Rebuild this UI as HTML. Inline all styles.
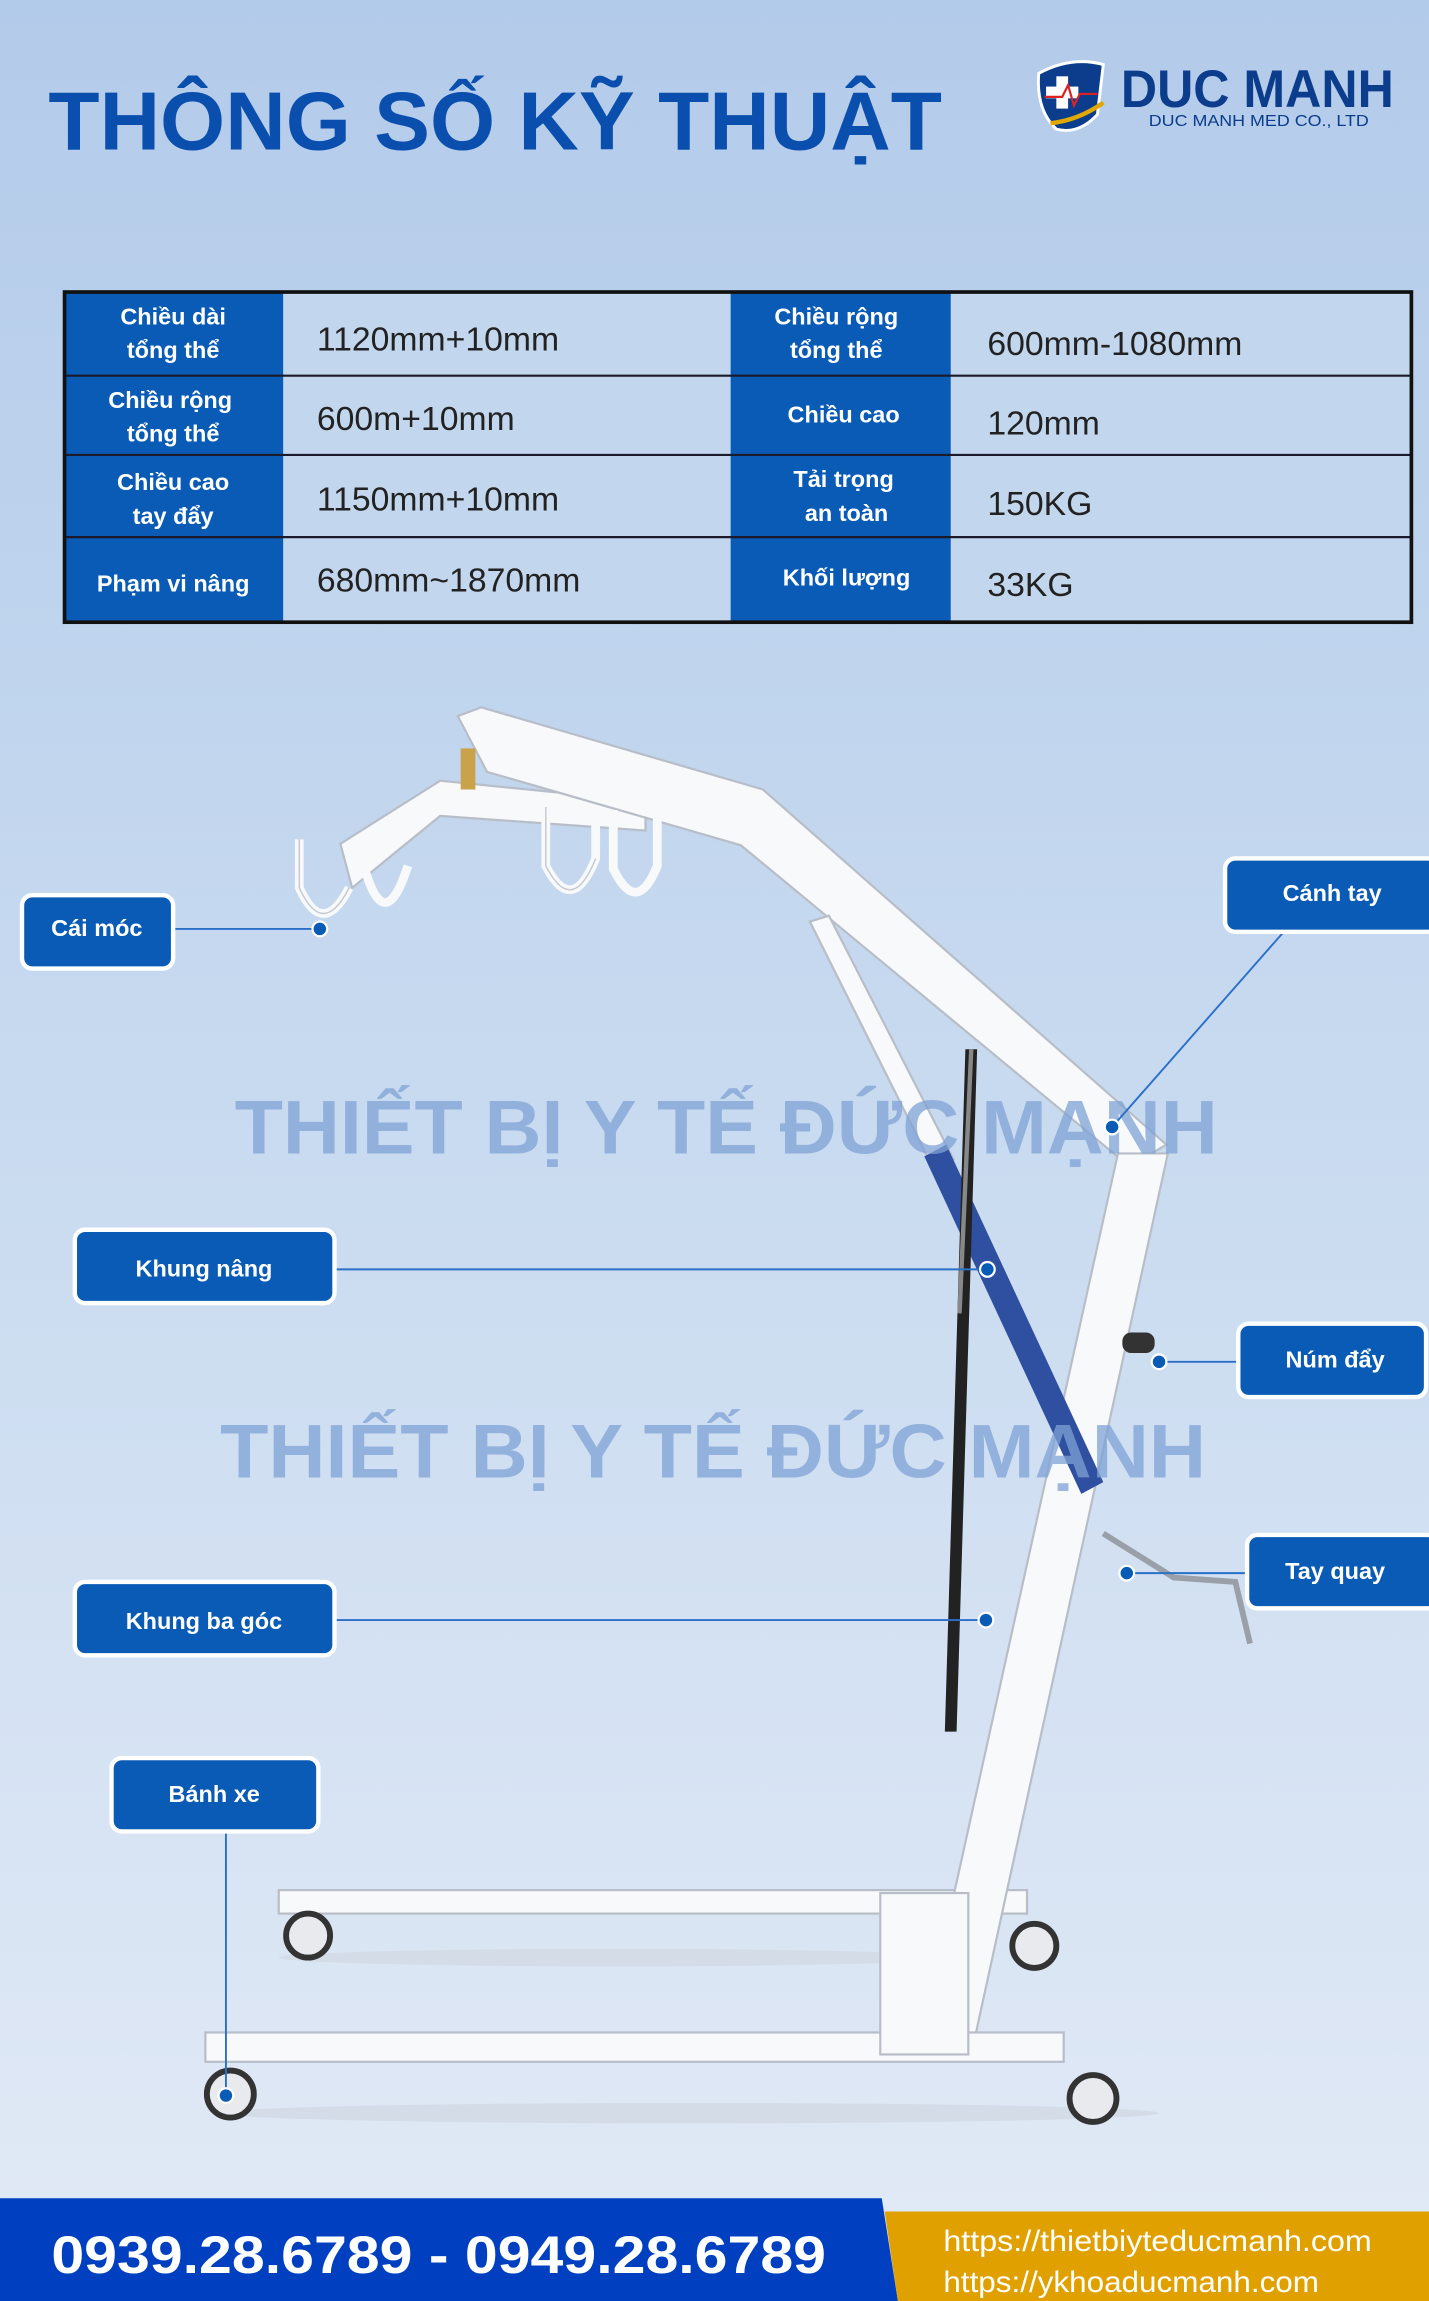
<!DOCTYPE html>
<html><head><meta charset="utf-8"><style>
html,body{margin:0;padding:0;width:1429px;height:2301px;overflow:hidden}
svg{display:block}
text{font-family:"Liberation Sans","DejaVu Sans",sans-serif}
</style></head><body>
<svg width="1429" height="2301" viewBox="0 0 974 1568" preserveAspectRatio="none" xmlns="http://www.w3.org/2000/svg">
<defs>
<linearGradient id="bg" x1="0" y1="0" x2="0" y2="1">
<stop offset="0" stop-color="#b3cbea"/><stop offset="0.5" stop-color="#c9dbf0"/><stop offset="1" stop-color="#e2eaf6"/>
</linearGradient>
</defs>
<rect width="974" height="1568" fill="url(#bg)"/>

<!-- title -->
<text x="33" y="102" font-size="56" font-weight="bold" fill="#0b4fae" textLength="609" lengthAdjust="spacingAndGlyphs">THÔNG SỐ KỸ THUẬT</text>

<!-- logo -->
<path d="M708,50 Q730,38 752,44 L748,78 Q735,92 720,88 Q706,75 708,50 Z" fill="#0b3d8c" stroke="#fff" stroke-width="2"/>
<rect x="720" y="52" width="8" height="22" fill="#fff"/><rect x="713" y="59" width="22" height="8" fill="#fff"/>
<path d="M712,66 L724,66 L728,58 L732,72 L736,64 L748,64" stroke="#d22" stroke-width="1.5" fill="none"/>
<path d="M716,84 Q735,82 752,70" stroke="#e0a800" stroke-width="3" fill="none"/>
<text x="764" y="73" font-size="36" font-weight="bold" fill="#0b3d8c" textLength="186" lengthAdjust="spacingAndGlyphs">DUC MANH</text>
<text x="783" y="86" font-size="11" fill="#0b3d8c" textLength="150" lengthAdjust="spacingAndGlyphs">DUC MANH MED CO., LTD</text>

<!-- table -->
<rect x="44" y="199" width="918" height="225" fill="#c2d6ee"/>
<rect x="44" y="199" width="149" height="225" fill="#0a5bb5"/>
<rect x="498" y="199" width="150" height="225" fill="#0a5bb5"/>
<g stroke="#1a1a2a" stroke-width="1.5"><line x1="44" y1="256" x2="962" y2="256"/><line x1="44" y1="310" x2="962" y2="310"/><line x1="44" y1="366" x2="962" y2="366"/></g>
<rect x="44" y="199" width="918" height="225" fill="none" stroke="#111" stroke-width="2.5"/>
<g fill="#fff" font-size="16" font-weight="bold" text-anchor="middle">
<text x="118" y="221">Chiều dài</text><text x="118" y="244">tổng thể</text>
<text x="116" y="278">Chiều rộng</text><text x="118" y="301">tổng thể</text>
<text x="118" y="334">Chiều cao</text><text x="118" y="357">tay đẩy</text>
<text x="118" y="403">Phạm vi nâng</text>
<text x="570" y="221">Chiều  rộng</text><text x="570" y="244">tổng thể</text>
<text x="575" y="288">Chiều  cao</text>
<text x="575" y="332">Tải trọng</text><text x="577" y="355">an toàn</text>
<text x="577" y="399">Khối lượng</text>
</g>
<g fill="#222" font-size="23">
<text x="216" y="239">1120mm+10mm</text>
<text x="216" y="293">600m+10mm</text>
<text x="216" y="348">1150mm+10mm</text>
<text x="216" y="403">680mm~1870mm</text>
<text x="673" y="242">600mm-1080mm</text>
<text x="673" y="296">120mm</text>
<text x="673" y="351">150KG</text>
<text x="673" y="406">33KG</text>
</g>

<!-- lift -->
<g stroke="#b8bec8" stroke-width="1.5" fill="#f8f9fb">
<!-- base back -->
<rect x="190" y="1288" width="510" height="16"/>
<ellipse cx="420" cy="1334" rx="230" ry="6" fill="#d4dce8" stroke="none"/>
<!-- hook plate -->
<path d="M232,575 L300,532 L440,546 L440,566 L300,556 L240,605 Z"/>
<!-- boom -->
<path d="M312,488 L328,482 L520,538 L795,780 L770,795 L505,576 L332,526 Z"/>
<!-- link -->
<path d="M552,628 L565,624 L650,790 L636,796 Z"/>
<!-- mast -->
<path d="M762,786 L796,786 L662,1400 L626,1400 Z"/>
<!-- base front -->
<rect x="140" y="1385" width="585" height="20"/>
<rect x="600" y="1290" width="60" height="110"/>
</g>
<ellipse cx="470" cy="1440" rx="320" ry="7" fill="#d4dce8"/>
<!-- hooks -->
<g stroke="#f8f9fb" stroke-width="6" fill="none">
<path d="M204,572 L204,605 Q220,640 238,605"/>
<path d="M248,590 Q262,640 278,590"/>
<path d="M372,550 L372,590 Q390,625 406,585 L406,550"/>
<path d="M418,552 L418,592 Q434,625 448,590 L448,548"/>
</g>
<g stroke="#c4c9d2" stroke-width="1" fill="none">
<path d="M204,572 L204,605 Q220,640 238,605"/>
<path d="M372,550 L372,590 Q390,625 406,585"/>
</g>
<rect x="314" y="510" width="10" height="28" fill="#c9a24a"/>
<!-- actuator -->
<path d="M630,788 L645,780 L752,1010 L737,1018 Z" fill="#2f4fa0"/>
<!-- gas strut -->
<path d="M658,715 L666,715 L652,1180 L644,1180 Z" fill="#222"/>
<path d="M662,715 L654,895" stroke="#888" stroke-width="3"/>
<!-- knob -->
<rect x="765" y="908" width="22" height="14" rx="6" fill="#333"/>
<!-- crank -->
<path d="M752,1045 L800,1075 L842,1078 L852,1120" stroke="#9aa0a8" stroke-width="4" fill="none"/>
<!-- wheels -->
<g fill="#e8eaee" stroke="#333" stroke-width="4">
<circle cx="157" cy="1427" r="16"/><circle cx="210" cy="1319" r="15"/>
<circle cx="705" cy="1326" r="15"/><circle cx="745" cy="1430" r="16"/>
</g>

<!-- watermarks -->
<g fill="#7fa2d6" fill-opacity="0.75" font-size="52" font-weight="bold">
<text x="160" y="786" textLength="670" lengthAdjust="spacingAndGlyphs">THIẾT BỊ Y TẾ ĐỨC MẠNH</text>
<text x="150" y="1007" textLength="672" lengthAdjust="spacingAndGlyphs">THIẾT BỊ Y TẾ ĐỨC MẠNH</text>
</g>

<!-- connectors -->
<g stroke="#2a6fc8" stroke-width="1.3" fill="none">
<line x1="118" y1="633" x2="218" y2="633"/>
<line x1="875" y1="635" x2="758" y2="768"/>
<line x1="228" y1="865" x2="673" y2="865"/>
<line x1="790" y1="928" x2="844" y2="928"/>
<line x1="768" y1="1072" x2="850" y2="1072"/>
<line x1="228" y1="1104" x2="672" y2="1104"/>
<line x1="154" y1="1248" x2="154" y2="1428"/>
</g>
<g fill="#0a5bb5" stroke="#fff" stroke-width="1.5">
<circle cx="218" cy="633" r="5"/><circle cx="758" cy="768" r="5"/><circle cx="673" cy="865" r="5"/>
<circle cx="790" cy="928" r="5"/><circle cx="768" cy="1072" r="5"/><circle cx="672" cy="1104" r="5"/><circle cx="154" cy="1428" r="5"/>
</g>

<!-- labels -->
<g fill="#0a5bb5" stroke="#fff" stroke-width="3">
<rect x="15" y="610" width="103" height="50" rx="7"/>
<rect x="835" y="585" width="145" height="50" rx="7"/>
<rect x="51" y="838" width="177" height="50" rx="7"/>
<rect x="844" y="902" width="128" height="50" rx="7"/>
<rect x="850" y="1046" width="130" height="50" rx="7"/>
<rect x="51" y="1078" width="177" height="50" rx="7"/>
<rect x="76" y="1198" width="141" height="50" rx="7"/>
</g>
<g fill="#fff" font-size="16" font-weight="bold" text-anchor="middle">
<text x="66" y="638">Cái móc</text>
<text x="908" y="614">Cánh tay</text>
<text x="139" y="870">Khung nâng</text>
<text x="910" y="932">Núm đẩy</text>
<text x="910" y="1076">Tay quay</text>
<text x="139" y="1110">Khung  ba góc</text>
<text x="146" y="1228">Bánh xe</text>
</g>

<!-- footer -->
<path d="M0,1498 L601,1498 L612,1568 L0,1568 Z" fill="#0040c0"/>
<path d="M603,1507 L974,1507 L974,1568 L612,1568 Z" fill="#e0a000"/>
<text x="35" y="1549" font-size="36" font-weight="bold" fill="#fff" textLength="528" lengthAdjust="spacingAndGlyphs">0939.28.6789 - 0949.28.6789</text>
<text x="643" y="1534" font-size="20" fill="#fff" textLength="292" lengthAdjust="spacingAndGlyphs">https://thietbiyteducmanh.com</text>
<text x="643" y="1562" font-size="20" fill="#fff" textLength="256" lengthAdjust="spacingAndGlyphs">https://ykhoaducmanh.com</text>
</svg>
</body></html>
